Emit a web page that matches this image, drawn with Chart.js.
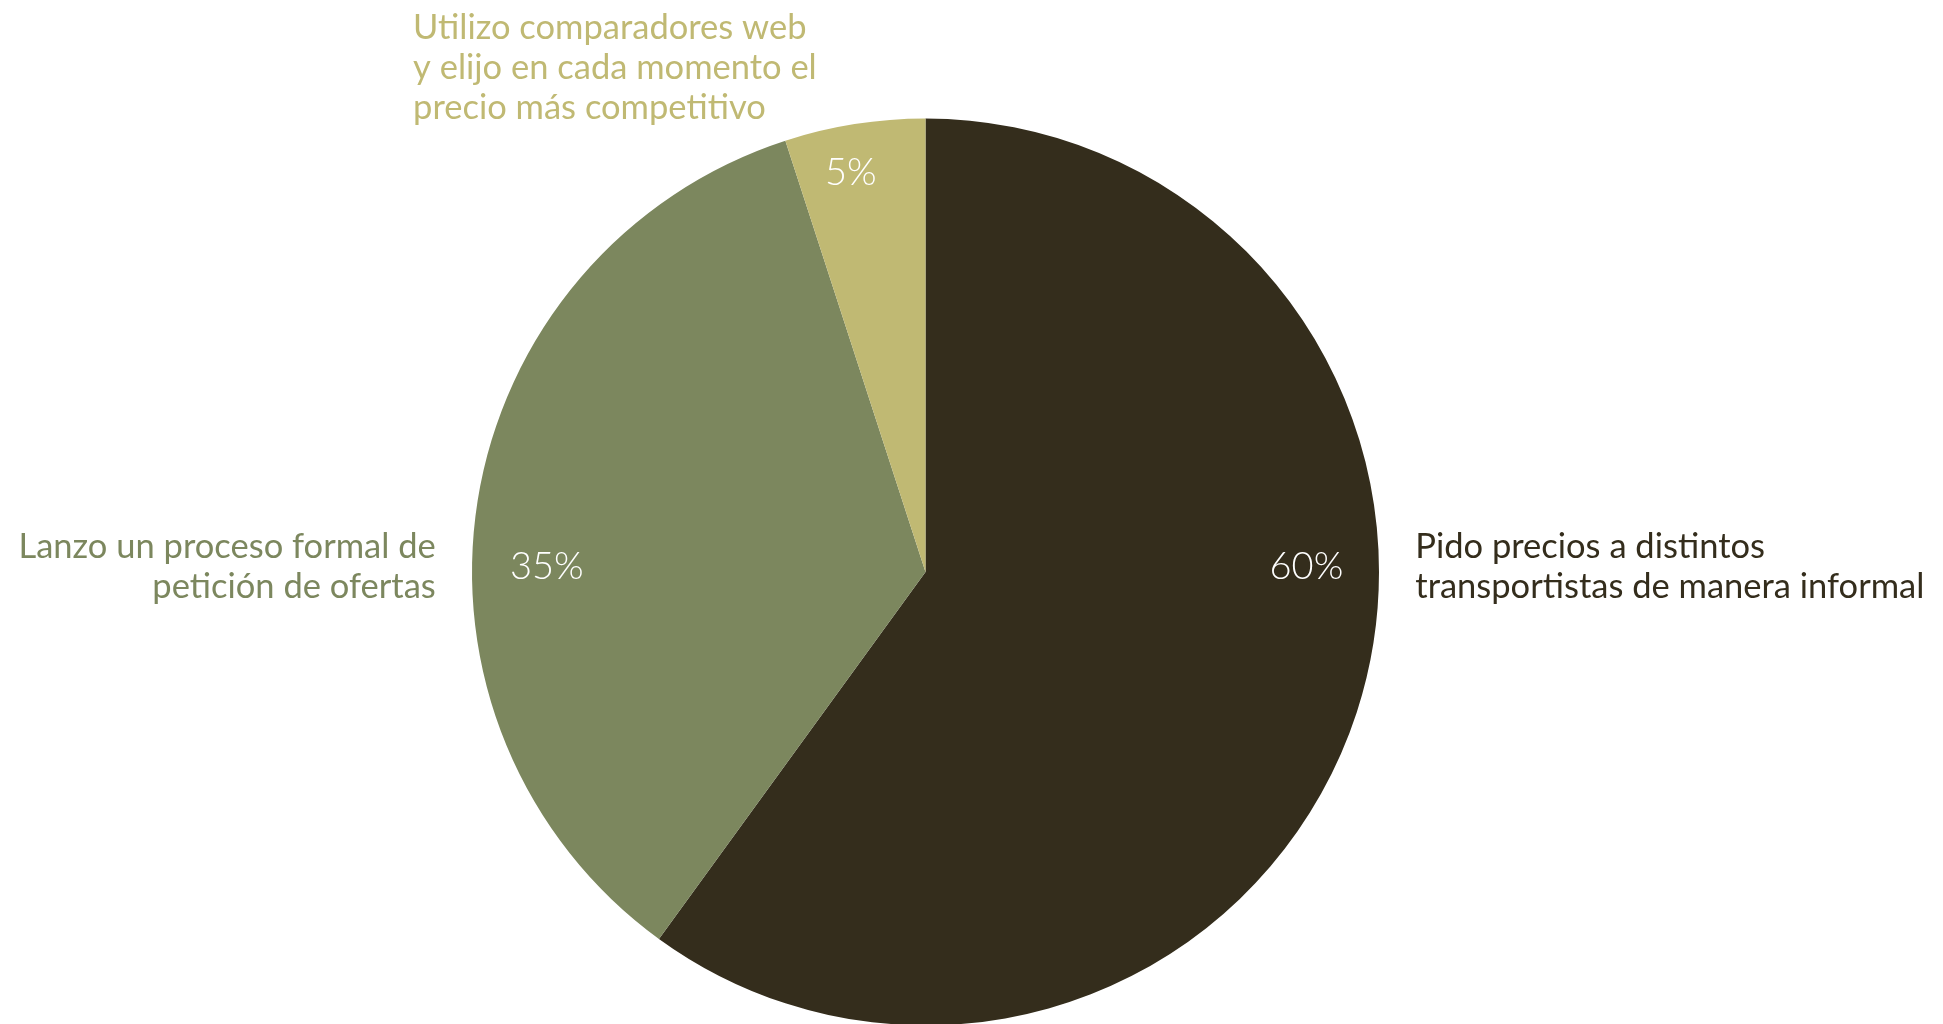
<!DOCTYPE html>
<html lang="es">
<head>
<meta charset="utf-8">
<title>Solicitud de precios de transporte</title>
<script src="https://cdn.jsdelivr.net/npm/chart.js@4/dist/chart.umd.min.js"></script>
<style>
  html, body { margin: 0; padding: 0; background: #ffffff; overflow: hidden; }
  #wrap { position: relative; width: 1943px; height: 1040px; }
</style>
</head>
<body>
<div id="wrap"><canvas id="chart"></canvas></div>
<script>
// Categories (one label per slice, split into lines)
const categories = [
  ['Pido precios a distintos', 'transportistas de manera informal'],
  ['Lanzo un proceso formal de', 'petición de ofertas'],
  ['Utilizo comparadores web', 'y elijo en cada momento el', 'precio más competitivo']
];
// Share of respondents, %
const shares = [60, 35, 5];
const percentLabels = ['60%', '35%', '5%'];

const sliceColors = ['#342d1c', '#7c875e', '#c0b973'];
const FONT = '"Lato", "Noto Sans", sans-serif';

// Placement of the text in each slice: angle (deg, clockwise from top) and radius fraction
const percentPlacement = [
  { angle: 89.2, r: 0.84 },
  { angle: 270.8, r: 0.835 },
  { angle: 349.4, r: 0.895 }
];
// Placement of the category captions relative to the pie centre / radius
const captionPlacement = [
  { dx: 1.08, dy: -0.03, align: 'left' },
  { dx: -1.08, dy: -0.03, align: 'right' },
  { dx: -1.13, dy: -1.175, align: 'left' }
];
const lineHeight = 40;

const labelsPlugin = {
  id: 'sliceLabels',
  afterDraw(chart) {
    const ctx = chart.ctx;
    const meta = chart.getDatasetMeta(0);
    const arc0 = meta.data[0];
    const cx = arc0.x, cy = arc0.y, R = arc0.outerRadius;
    ctx.save();
    // percentages inside slices
    ctx.font = '300 38px ' + FONT;
    ctx.fillStyle = '#ffffff';
    ctx.textAlign = 'center';
    ctx.textBaseline = 'middle';
    meta.data.forEach((arc, i) => {
      const p = percentPlacement[i];
      const a = p.angle * Math.PI / 180;
      ctx.fillText(percentLabels[i], cx + Math.sin(a) * R * p.r, cy - Math.cos(a) * R * p.r);
    });
    // category captions outside the pie
    ctx.font = '400 34.5px ' + FONT;
    ctx.textBaseline = 'alphabetic';
    categories.forEach((lines, i) => {
      const c = captionPlacement[i];
      ctx.fillStyle = sliceColors[i];
      ctx.textAlign = c.align;
      const x = cx + c.dx * R;
      const y0 = cy + c.dy * R;
      lines.forEach((t, k) => ctx.fillText(t, x, y0 + k * lineHeight));
    });
    ctx.restore();
  }
};

new Chart(document.getElementById('chart'), {
  type: 'pie',
  data: {
    labels: categories.map(l => l.join(' ')),
    datasets: [{
      data: shares,
      backgroundColor: sliceColors,
      borderWidth: 0
    }]
  },
  options: {
    responsive: true,
    maintainAspectRatio: false,
    animation: false,
    rotation: 0,
    layout: { padding: { top: 118.5, bottom: 14.5, left: 0, right: 92 } },
    plugins: {
      legend: { display: false },
      tooltip: { enabled: false }
    }
  },
  plugins: [labelsPlugin]
});
</script>
</body>
</html>
